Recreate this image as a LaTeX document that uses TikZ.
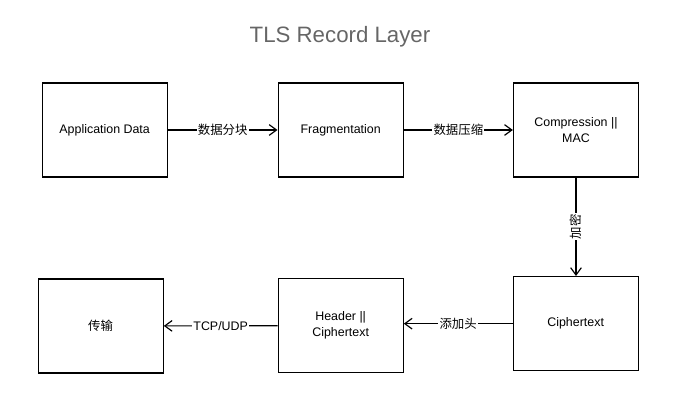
\documentclass[tikz,border=0pt]{standalone}
\usepackage{fontspec}
\setmainfont{Liberation Sans}
\newfontfamily\cjk{Noto Sans CJK SC}
\usepackage{tikz}
\usetikzlibrary{arrows.meta}
\definecolor{titlegray}{HTML}{666666}

\begin{document}
\begin{tikzpicture}[
    stage/.style={rectangle, minimum width=3.75cm, minimum height=2.82cm, draw=black, line width=1.1pt, fill=white, text centered, align=center, font=\fontsize{10.6}{13.7}\selectfont},
    arr/.style={-{Straight Barb[length=2.2mm, width=3.2mm]}, draw=black, line width=1pt},
    lbl/.style={fill=white, inner sep=1pt, font=\fontsize{10.6}{13}\selectfont}
]
    \useasboundingbox (0, 0) rectangle (20.4, -12.36);
    \node[font=\fontsize{19}{22}\selectfont, text=titlegray] (title) at (10.2, -1.1) {TLS Record Layer};

    \node[stage] (appdata) at (3.14, -3.9) {Application Data};
    \node[stage] (frag) at (10.22, -3.9) {Fragmentation};
    \node[stage] (compmac) at (17.28, -3.9) {Compression ||\\MAC};
    \node[stage] (cipher) at (17.27, -9.71) {Ciphertext};
    \node[stage] (header) at (10.22, -9.77) {Header ||\\Ciphertext};
    \node[stage] (transport) at (3.02, -9.78) {\cjk 传输};

    \draw[arr] (appdata) -- node[lbl] {\cjk 数据分块} (frag);
    \draw[arr] (frag) -- node[lbl] {\cjk 数据压缩} (compmac);
    \draw[arr] (compmac.south) -- node[lbl, rotate=90] {\cjk 加密} (compmac.south |- cipher.north);
    \draw[arr] (cipher.west) -- node[lbl] {\cjk 添加头} (cipher.west -| header.east);
    \draw[arr] (header) -- node[lbl] {TCP/UDP} (transport);
\end{tikzpicture}
\end{document}
